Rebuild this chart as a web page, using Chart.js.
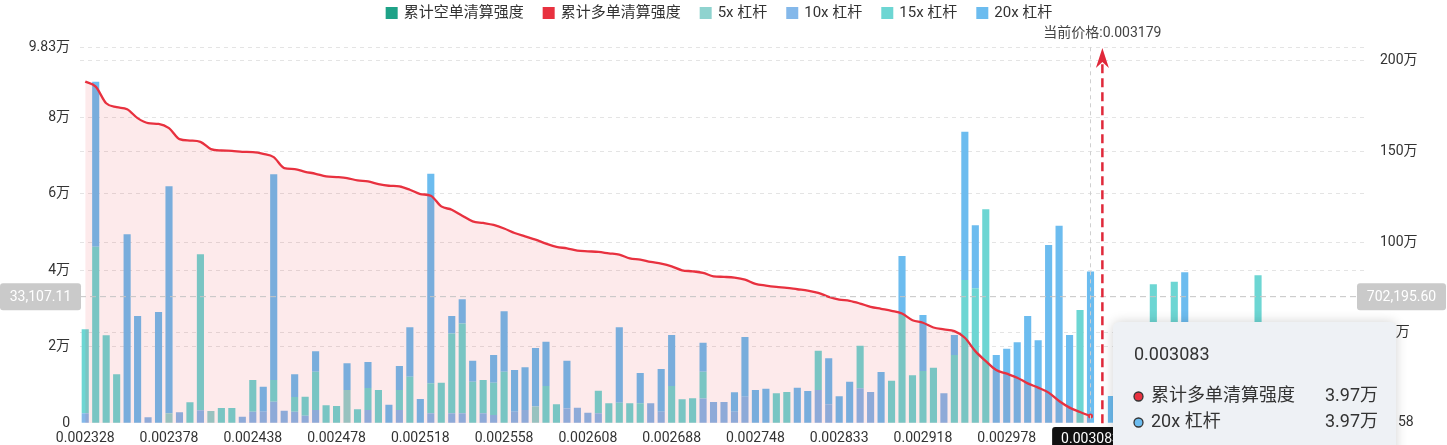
<!DOCTYPE html>
<html lang="zh">
<head>
<meta charset="utf-8">
<title>清算强度</title>
<style>
  html, body { margin: 0; padding: 0; background: #fff; }
  #wrap { width: 1447px; height: 445px; position: relative; }
</style>
</head>
<body>
<div id="wrap"><canvas id="liqChart"></canvas></div>

<script src="https://cdn.jsdelivr.net/npm/chart.js/dist/chart.umd.min.js"></script>
<script>
// price levels (x categories)
const prices = [
  '0.002328','0.002334','0.002340','0.002346','0.002353','0.002359','0.002365','0.002371','0.002378','0.002385',
  '0.002393','0.002400','0.002408','0.002415','0.002423','0.002430','0.002438','0.002443','0.002448','0.002453',
  '0.002458','0.002463','0.002468','0.002473','0.002478','0.002483','0.002488','0.002493','0.002498','0.002503',
  '0.002508','0.002513','0.002518','0.002523','0.002528','0.002533','0.002538','0.002543','0.002548','0.002553',
  '0.002558','0.002564','0.002570','0.002577','0.002583','0.002589','0.002595','0.002602','0.002608','0.002618',
  '0.002628','0.002638','0.002648','0.002658','0.002668','0.002678','0.002688','0.002695','0.002703','0.002710',
  '0.002718','0.002725','0.002733','0.002740','0.002748','0.002758','0.002769','0.002780','0.002790','0.002801',
  '0.002812','0.002822','0.002833','0.002844','0.002854','0.002865','0.002876','0.002886','0.002897','0.002908',
  '0.002918','0.002925','0.002933','0.002940','0.002948','0.002955','0.002963','0.002970','0.002978','0.002991',
  '0.003004','0.003017','0.003030','0.003044','0.003057','0.003070','0.003083','0.003179','0.003192','0.003205',
  '0.003218','0.003231','0.003244','0.003257','0.003270','0.003283','0.003296','0.003309','0.003322','0.003335',
  '0.003348','0.003361','0.003374','0.003387','0.003400','0.003413','0.003426','0.003439','0.003452','0.003465',
  '0.003478','0.003491','0.003504'
];

// cumulative long liquidation (right axis), ends at the current price
const longCum = [
  1885000,1857500,1766100,1744100,1733100,1683500,1656000,1652100,1628400,1567800,
  1560100,1553000,1512800,1505100,1503400,1497900,1496200,1486900,1468700,1408100,
  1402600,1387800,1376800,1361900,1358600,1353100,1339900,1334300,1320000,1310700,
  1306800,1288600,1264900,1255600,1196700,1178500,1145500,1114100,1105300,1094200,
  1075000,1050200,1031400,1013300,991300,973100,965400,952700,948900,945600,
  937800,930700,910300,903100,890500,881100,866200,844200,838700,829900,
  811200,807900,804000,793000,769300,760000,752800,747300,739600,732400,
  719800,697700,682900,675700,660800,642700,631700,620600,605800,568900,
  554600,528700,517700,508300,471900,398200,343100,293500,273700,251700,
  220300,196600,169100,122800,86500,62200,39700
];
// cumulative short liquidation: hidden behind the tooltip
const shortCum = [];

// leverage buckets (left axis)
const lev5 = [
  null,null,null,null,null,null,null,null,2600,null,
  null,null,3200,null,null,null,null,null,null,null,
  null,null,null,null,null,8700,null,null,null,null,
  null,null,null,null,null,null,null,null,null,null,
  null,null,null,4400,null,null,null,null,null,null,
  null,null,null,null,null,null,null,null,null,null,
  null,null,null,null,null,null,null,null,null,null,
  null,null,null,null,null,null,null,null,null,null,
  null,null,null,null,null,null,null,null,null,null,
  null,null,null,null,null,null,null,null,null,null,
  null,null,null,null,null,null,null,null,null,null,
  null,null,null,null,null,null,null,null,null,null,
  null,null,null
];
const lev10 = [
  2600,null,null,null,null,null,1570,null,null,2880,
  null,3400,null,null,null,1700,3000,3000,5650,3300,
  3000,2000,3500,null,null,null,null,3500,null,null,
  3500,null,null,2600,null,2600,2600,null,2600,2200,
  null,3000,3500,null,null,null,3900,4080,2770,2600,
  null,null,null,null,5230,3000,null,null,null,6500,
  5570,5570,3000,6950,null,null,null,null,null,null,
  8700,5000,null,null,9150,8180,null,null,null,null,
  null,null,7840,null,null,null,null,null,null,null,
  null,null,null,null,null,null,null,null,null,null,
  null,null,null,null,null,null,null,null,null,null,
  null,null,null,null,null,null,null,null,null,null,
  null,null,null
];
const lev15 = [
  21970,46160,23000,12800,null,null,null,null,null,null,
  5490,40780,null,4000,4000,null,8320,null,5650,null,
  3900,4960,10000,4700,4500,null,3660,5700,8700,null,
  5200,12180,null,7900,10620,20900,23500,10870,8720,8400,
  13490,null,null,null,9750,4960,null,null,null,5920,
  5230,5400,5230,5230,null,null,9750,6270,6530,7000,
  null,null,null,null,null,null,7840,8180,null,null,
  10280,null,null,null,11140,null,null,11140,28310,12550,
  13670,14540,null,17850,37460,35290,55940,null,null,null,
  null,null,null,null,null,29620,null,null,null,null,
  null,null,36330,null,37020,null,null,null,null,null,
  null,null,38680,null,null,null,null,null,null,null,
  null,null,null
];
const lev20 = [
  null,43140,null,null,49400,28050,null,29100,59350,null,
  null,null,null,null,null,null,null,6570,53790,null,
  5900,null,5320,null,null,6980,null,6800,null,4870,
  6280,12910,6350,54750,null,4550,6300,5490,null,7250,
  15790,10930,11130,15280,11580,null,12460,null,null,null,
  null,19690,null,7920,null,11190,13330,null,null,7570,
  null,null,5100,15610,8700,9050,null,null,9310,8440,
  null,11990,7060,10880,null,null,13410,null,15420,null,
  14640,null,null,5230,38770,16470,null,17850,19500,21170,
  28050,21700,46610,51660,23080,null,39700,null,7140,null,
  null,null,null,null,null,39470,null,null,null,null,
  null,null,null,null,null,null,null,null,null,null,
  null,null,null
];

const leftTicks = [0, 20000, 40000, 60000, 80000, 98300];
const rightTicks = [0, 500000, 1000000, 1500000, 2000000];

const hoverIndex = 96;      // tooltip / crosshair position
const priceIndex = 97;      // current price marker
const crossLeft = '33,107.11';
const crossRight = '702,195.60';

const FONT = "Roboto, 'Noto Sans CJK SC', sans-serif";
Chart.defaults.font.family = FONT;
Chart.defaults.color = '#333';

function wan(v) {
  if (v === 0) return '0';
  return (Math.round(v / 100) / 100) + '万';
}

function roundRect(ctx, x, y, w, h, r) {
  ctx.beginPath();
  ctx.moveTo(x + r, y);
  ctx.arcTo(x + w, y, x + w, y + h, r);
  ctx.arcTo(x + w, y + h, x, y + h, r);
  ctx.arcTo(x, y + h, x, y, r);
  ctx.arcTo(x, y, x + w, y, r);
  ctx.closePath();
}

// legend, price marker, crosshair and tooltip drawn on top
const overlay = {
  id: 'overlay',
  afterDraw(chart) {
    const ctx = chart.ctx;
    const xs = chart.scales.x, ys = chart.scales.y;
    const area = chart.chartArea;

    // legend
    ctx.save();
    ctx.font = '15px ' + FONT;
    ctx.textBaseline = 'middle';
    const items = chart.data.datasets.map(d => ({ text: d.label, color: d.legendColor }));
    const box = 12, gap = 6, space = 19;
    let total = 0;
    items.forEach((it, i) => {
      it.w = ctx.measureText(it.text).width;
      total += box + gap + it.w + (i ? space : 0);
    });
    let lx = 719 - total / 2;
    items.forEach(it => {
      ctx.fillStyle = it.color;
      ctx.fillRect(lx, 7, box, box);
      ctx.fillStyle = '#333';
      ctx.fillText(it.text, lx + box + gap, 13.5);
      lx += box + gap + it.w + space;
    });
    ctx.restore();

    // horizontal crosshair
    const cy = ys.getPixelForValue(33107.11);
    ctx.save();
    ctx.strokeStyle = '#c4c4c4';
    ctx.lineWidth = 1;
    ctx.setLineDash([6, 4]);
    ctx.beginPath();
    ctx.moveTo(area.left, cy); ctx.lineTo(area.right, cy);
    ctx.stroke();
    // vertical crosshair
    const hx = xs.getPixelForValue(hoverIndex);
    ctx.strokeStyle = '#cfcfcf';
    ctx.setLineDash([4, 4]);
    ctx.beginPath();
    ctx.moveTo(hx, area.top); ctx.lineTo(hx, area.bottom);
    ctx.stroke();
    ctx.restore();

    // current price arrow
    const px = xs.getPixelForValue(priceIndex) + 1.4;
    ctx.save();
    ctx.strokeStyle = '#e0283a';
    ctx.fillStyle = '#e0283a';
    ctx.lineWidth = 2.5;
    ctx.setLineDash([9, 5]);
    ctx.beginPath();
    ctx.moveTo(px, area.bottom); ctx.lineTo(px, 62);
    ctx.stroke();
    ctx.setLineDash([]);
    ctx.beginPath();
    ctx.moveTo(px, 48); ctx.lineTo(px + 6.5, 68); ctx.lineTo(px, 62); ctx.lineTo(px - 6.5, 68);
    ctx.closePath();
    ctx.fill();
    ctx.font = '14px ' + FONT;
    ctx.fillStyle = '#444';
    ctx.textAlign = 'center';
    ctx.textBaseline = 'middle';
    ctx.fillText('当前价格:' + prices[priceIndex], px, 33);
    ctx.restore();

    // crosshair axis labels
    ctx.save();
    ctx.font = '14px ' + FONT;
    ctx.textAlign = 'center';
    ctx.textBaseline = 'middle';
    ctx.fillStyle = '#cacaca';
    roundRect(ctx, 0, cy - 13.5, 81, 27, 3); ctx.fill();
    roundRect(ctx, 1357, cy - 13.5, 89, 27, 3); ctx.fill();
    ctx.fillStyle = '#fff';
    ctx.fillText(crossLeft, 40.5, cy + 0.5);
    ctx.fillText(crossRight, 1401.5, cy + 0.5);
    // x pointer label
    const xl = prices[hoverIndex];
    const xw = ctx.measureText(xl).width + 18;
    ctx.fillStyle = '#111';
    roundRect(ctx, hx - xw / 2, 427, xw, 24, 3); ctx.fill();
    ctx.fillStyle = '#fff';
    ctx.fillText(xl, hx, 439);
    ctx.restore();

    // tooltip
    ctx.save();
    ctx.shadowColor = 'rgba(0,0,0,0.18)';
    ctx.shadowBlur = 12;
    ctx.fillStyle = '#eef1f5';
    roundRect(ctx, 1113, 322, 283, 150, 6); ctx.fill();
    ctx.restore();
    ctx.save();
    ctx.textBaseline = 'middle';
    ctx.font = '18px ' + FONT;
    ctx.fillStyle = '#333';
    ctx.fillText(prices[hoverIndex], 1134, 355);
    const rows = [
      { name: chart.data.datasets[1].label, color: chart.data.datasets[1].legendColor, v: longCum[hoverIndex], y: 396.5 },
      { name: chart.data.datasets[5].label, color: chart.data.datasets[5].legendColor, v: lev20[hoverIndex], y: 422.5 }
    ];
    rows.forEach(r => {
      ctx.beginPath();
      ctx.arc(1138.5, r.y, 4.5, 0, Math.PI * 2);
      ctx.fillStyle = r.color; ctx.fill();
      ctx.lineWidth = 1.3; ctx.strokeStyle = '#333'; ctx.stroke();
      ctx.fillStyle = '#333';
      ctx.textAlign = 'left';
      ctx.fillText(r.name, 1151, r.y);
      ctx.textAlign = 'right';
      ctx.fillText(wan(r.v), 1378, r.y);
    });
    ctx.font = '14px ' + FONT;
    ctx.textAlign = 'left';
    ctx.fillText('58', 1398, 422);
    ctx.restore();
  }
};

const gridDash = [4, 4];

const data = {
  labels: prices,
  datasets: [
    {
      type: 'line', label: '累计空单清算强度', data: shortCum, yAxisID: 'y1',
      borderColor: '#1ea287', legendColor: '#1ea287', borderWidth: 2, pointRadius: 0, order: 0
    },
    {
      type: 'line', label: '累计多单清算强度', data: longCum, yAxisID: 'y1',
      borderColor: '#e8313f', legendColor: '#e8313f', backgroundColor: 'rgba(232,49,63,0.1)',
      fill: 'origin', borderWidth: 2.3, cubicInterpolationMode: 'monotone',
      pointRadius: c => (c.dataIndex === hoverIndex ? 2.5 : 0), pointBackgroundColor: '#e8313f',
      pointBorderWidth: 0, order: 0
    },
    { label: '5x 杠杆', data: lev5, yAxisID: 'y', stack: 'lev', backgroundColor: '#8fd3cf', legendColor: '#8fd3cf', order: 2 },
    { label: '10x 杠杆', data: lev10, yAxisID: 'y', stack: 'lev', backgroundColor: '#84b8ea', legendColor: '#84b8ea', order: 1 },
    { label: '15x 杠杆', data: lev15, yAxisID: 'y', stack: 'lev', backgroundColor: '#6dd6d3', legendColor: '#6dd6d3', order: 3 },
    { label: '20x 杠杆', data: lev20, yAxisID: 'y', stack: 'lev', backgroundColor: '#6cbcef', legendColor: '#6cbcef', order: 4 }
  ]
};

const config = {
  type: 'bar',
  data: data,
  options: {
    responsive: true,
    maintainAspectRatio: false,
    animation: false,
    layout: { padding: { top: 47.3, left: 0, right: 0, bottom: 0 } },
    datasets: { bar: { categoryPercentage: 1, barPercentage: 0.68, borderWidth: 0 } },
    plugins: { legend: { display: false }, tooltip: { enabled: false } },
    scales: {
      x: {
        stacked: true,
        grid: { display: false, drawTicks: false },
        border: { display: false },
        ticks: {
          autoSkip: false, maxRotation: 0, minRotation: 0, padding: 7,
          font: { size: 14 }, color: '#333',
          callback: (v, i) => (i % 8 === 0 ? prices[i] : '')
        },
        afterFit: s => { s.height = 21.7; }
      },
      y: {
        position: 'left', stacked: true, min: 0, max: 98300,
        grid: { color: c => (c.tick && c.tick.value === 0 ? 'rgba(0,0,0,0)' : '#e4e4e4'), drawTicks: false },
        border: { display: false, dash: gridDash },
        ticks: { padding: 10, font: { size: 14 }, color: '#333', callback: v => wan(v) },
        afterBuildTicks: s => { s.ticks = leftTicks.map(v => ({ value: v })); },
        afterFit: s => { s.width = 80; }
      },
      y1: {
        position: 'right', min: 0, max: 2074500,
        grid: { color: c => (c.tick && c.tick.value === 0 ? 'rgba(0,0,0,0)' : '#e4e4e4'), drawTicks: false },
        border: { display: false, dash: gridDash },
        ticks: { padding: 12, font: { size: 14 }, color: '#333', callback: v => wan(v) },
        afterBuildTicks: s => { s.ticks = rightTicks.map(v => ({ value: v })); },
        afterFit: s => { s.width = 79; }
      }
    }
  },
  plugins: [overlay]
};

const ctx = document.getElementById('liqChart').getContext('2d');
const liqChart = new Chart(ctx, config);
</script>
</body>
</html>
